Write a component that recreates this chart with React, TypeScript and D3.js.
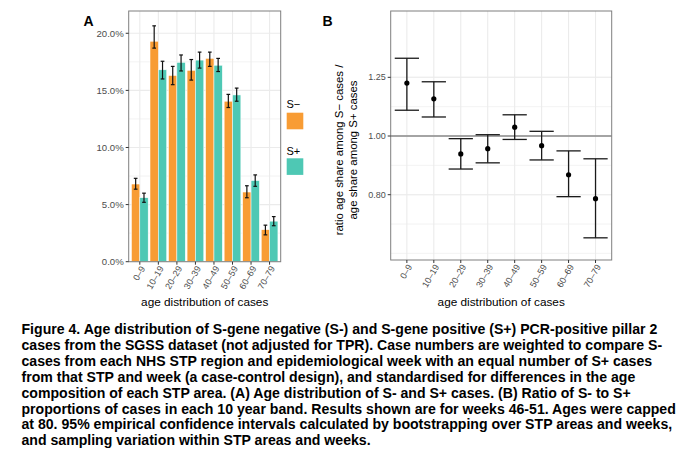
import React from "react";
import * as d3 from "d3";

const ageGroups = ["0–9", "10–19", "20–29", "30–39", "40–49", "50–59", "60–69", "70–79"];
const sNegShare = [6.8, 19.3, 16.3, 16.75, 17.8, 14.05, 6.1, 2.8];
const sNegLow = [6.35, 18.7, 15.5, 15.9, 17.1, 13.5, 5.6, 2.35];
const sNegHigh = [7.3, 20.65, 17.1, 17.7, 18.35, 14.65, 6.65, 3.2];
const sPosShare = [5.6, 16.8, 17.45, 17.65, 17.2, 14.6, 7.1, 3.55];
const sPosLow = [5.2, 16.0, 16.7, 16.95, 16.65, 14.05, 6.6, 3.15];
const sPosHigh = [6.0, 17.55, 18.1, 18.35, 17.8, 15.2, 7.6, 3.95];
const shareTicks = [0, 5, 10, 15, 20];
const shareMinor = [2.5, 7.5, 12.5, 17.5];

const ratio = [1.223, 1.152, 0.934, 0.953, 1.034, 0.964, 0.863, 0.788];
const ratioLow = [1.103, 1.075, 0.882, 0.903, 0.987, 0.913, 0.794, 0.679];
const ratioHigh = [1.344, 1.229, 0.99, 1.005, 1.084, 1.018, 0.945, 0.917];
const ratioTicks = [0.8, 1.0, 1.25];

const legendLabels = ["S−", "S+"];
const captionLines = [
  "Figure 4. Age distribution of S-gene negative (S-) and S-gene positive (S+) PCR-positive pillar 2",
  "cases from the SGSS dataset (not adjusted for TPR). Case numbers are weighted to compare S-",
  "cases from each NHS STP region and epidemiological week with an equal number of S+ cases",
  "from that STP and week (a case-control design), and standardised for differences in the age",
  "composition of each STP area. (A) Age distribution of S- and S+ cases. (B) Ratio of S- to S+",
  "proportions of cases in each 10 year band. Results shown are for weeks 46-51. Ages were capped",
  "at 80. 95% empirical confidence intervals calculated by bootstrapping over STP areas and weeks,",
  "and sampling variation within STP areas and weeks.",
];

const ORANGE = "#F89C34";
const TEAL = "#4EC8B4";
const GRID = "#EBEBEB";
const BORDER = "#7F7F7F";
const TICKTXT = "#4D4D4D";
const FONT = "'Liberation Sans', Arial, sans-serif";

export default function App() {
  // Panel A
  const aL = 128.7, aR = 280.7, aT = 11, aB = 261.7;
  const xA = d3.scaleBand<string>().domain(ageGroups).range([aL, aR]).paddingInner(0).paddingOuter(0.1);
  const yA = d3.scaleLinear().domain([0, 21.95]).range([aB, aT]);
  const stepA = xA.step();
  const barW = stepA * 0.45;
  const capA = stepA * 0.1;

  // Panel B
  const bL = 390.7, bR = 611.7, bT = 11, bB = 260;
  const xB = d3.scaleBand<string>().domain(ageGroups).range([bL, bR]).paddingInner(0).paddingOuter(0.1);
  const yB = d3.scaleLog().domain([0.6241, 1.6085]).range([bB, bT]);
  const stepB = xB.step();
  const capB = stepB * 0.45;
  const r0 = ratioTicks[0], r1 = ratioTicks[1];
  const lstep = Math.log(r1) - Math.log(r0);
  const bMinor: number[] = [];
  for (let k = -2; k <= 4; k++) {
    bMinor.push(Math.exp(Math.log(r0) + (k * lstep) / 2));
  }

  const cA = (g: string) => (xA(g) as number) + stepA / 2;
  const cB = (g: string) => (xB(g) as number) + stepB / 2;

  return (
    <svg width={690} height={455} style={{ position: "absolute", left: 0, top: 0, fontFamily: FONT }}>
      <rect x={0} y={0} width={690} height={455} fill="#fff" />

      {/* ---------- Panel A ---------- */}
      <text x={83.5} y={25.5} fontSize={14} fontWeight="bold" fill="#000">A</text>
      <rect x={aL} y={aT} width={aR - aL} height={aB - aT} fill="#fff" />
      {shareMinor.map((v) => (
        <line key={"am" + v} x1={aL} x2={aR} y1={yA(v)} y2={yA(v)} stroke={GRID} strokeWidth={0.6} />
      ))}
      {shareTicks.map((v) => (
        <line key={"ag" + v} x1={aL} x2={aR} y1={yA(v)} y2={yA(v)} stroke={GRID} strokeWidth={1.1} />
      ))}
      {ageGroups.map((g) => (
        <line key={"av" + g} x1={cA(g)} x2={cA(g)} y1={aT} y2={aB} stroke={GRID} strokeWidth={1.1} />
      ))}
      {ageGroups.map((g, i) => (
        <g key={"bars" + g}>
          <rect x={cA(g) - barW} y={yA(sNegShare[i])} width={barW} height={yA(0) - yA(sNegShare[i])} fill={ORANGE} stroke="#fff" strokeWidth={0.5} />
          <rect x={cA(g)} y={yA(sPosShare[i])} width={barW} height={yA(0) - yA(sPosShare[i])} fill={TEAL} stroke="#fff" strokeWidth={0.5} />
        </g>
      ))}
      {ageGroups.map((g, i) => {
        const xn = cA(g) - barW / 2;
        const xp = cA(g) + barW / 2;
        return (
          <g key={"eb" + g} stroke="#111" strokeWidth={1.2}>
            <line x1={xn} x2={xn} y1={yA(sNegLow[i])} y2={yA(sNegHigh[i])} />
            <line x1={xn - capA} x2={xn + capA} y1={yA(sNegLow[i])} y2={yA(sNegLow[i])} />
            <line x1={xn - capA} x2={xn + capA} y1={yA(sNegHigh[i])} y2={yA(sNegHigh[i])} />
            <line x1={xp} x2={xp} y1={yA(sPosLow[i])} y2={yA(sPosHigh[i])} />
            <line x1={xp - capA} x2={xp + capA} y1={yA(sPosLow[i])} y2={yA(sPosLow[i])} />
            <line x1={xp - capA} x2={xp + capA} y1={yA(sPosHigh[i])} y2={yA(sPosHigh[i])} />
          </g>
        );
      })}
      <rect x={aL} y={aT} width={aR - aL} height={aB - aT} fill="none" stroke={BORDER} strokeWidth={1} />
      {shareTicks.map((v) => (
        <g key={"at" + v}>
          <line x1={aL - 3} x2={aL} y1={yA(v)} y2={yA(v)} stroke="#333" strokeWidth={1} />
          <text x={aL - 5} y={yA(v)} dy="0.35em" textAnchor="end" fontSize={9.6} fill={TICKTXT}>
            {d3.format(".1f")(v) + "%"}
          </text>
        </g>
      ))}
      {ageGroups.map((g) => (
        <g key={"axt" + g}>
          <line x1={cA(g)} x2={cA(g)} y1={aB} y2={aB + 3} stroke="#333" strokeWidth={1} />
          <text transform={`translate(${cA(g) + 3},${aB + 5}) rotate(-60)`} textAnchor="end" dy="0.35em" fontSize={9} fill={TICKTXT}>
            {g}
          </text>
        </g>
      ))}
      <text x={(aL + aR) / 2} y={306} textAnchor="middle" fontSize={11.8} fill="#000">age distribution of cases</text>

      {/* Legend */}
      <text x={286.5} y={107.5} fontSize={11} fill="#000">{legendLabels[0]}</text>
      <rect x={286.7} y={112.7} width={16.6} height={16.6} fill={ORANGE} />
      <text x={286.5} y={154.5} fontSize={11} fill="#000">{legendLabels[1]}</text>
      <rect x={286.7} y={158.3} width={16.6} height={16.6} fill={TEAL} />

      {/* ---------- Panel B ---------- */}
      <text x={322.5} y={25.5} fontSize={14} fontWeight="bold" fill="#000">B</text>
      {bMinor.map((v, i) => (
        <line key={"bm" + i} x1={bL} x2={bR} y1={yB(v)} y2={yB(v)} stroke={GRID} strokeWidth={0.6} />
      ))}
      {ratioTicks.map((v) => (
        <line key={"bg" + v} x1={bL} x2={bR} y1={yB(v)} y2={yB(v)} stroke={GRID} strokeWidth={1.1} />
      ))}
      {ageGroups.map((g) => (
        <line key={"bv" + g} x1={cB(g)} x2={cB(g)} y1={bT} y2={bB} stroke={GRID} strokeWidth={1.1} />
      ))}
      <line x1={bL} x2={bR} y1={yB(1)} y2={yB(1)} stroke="#8a8a8a" strokeWidth={1.3} />
      {ageGroups.map((g, i) => (
        <g key={"be" + g} stroke="#1a1a1a" strokeWidth={1.3}>
          <line x1={cB(g)} x2={cB(g)} y1={yB(ratioLow[i])} y2={yB(ratioHigh[i])} />
          <line x1={cB(g) - capB} x2={cB(g) + capB} y1={yB(ratioLow[i])} y2={yB(ratioLow[i])} />
          <line x1={cB(g) - capB} x2={cB(g) + capB} y1={yB(ratioHigh[i])} y2={yB(ratioHigh[i])} />
          <circle cx={cB(g)} cy={yB(ratio[i])} r={2.6} fill="#000" stroke="none" />
        </g>
      ))}
      <rect x={bL} y={bT} width={bR - bL} height={bB - bT} fill="none" stroke={BORDER} strokeWidth={1} />
      {ratioTicks.map((v) => (
        <g key={"bt" + v}>
          <line x1={bL - 3} x2={bL} y1={yB(v)} y2={yB(v)} stroke="#333" strokeWidth={1} />
          <text x={bL - 5} y={yB(v)} dy="0.35em" textAnchor="end" fontSize={9} fill={TICKTXT}>
            {d3.format(".2f")(v)}
          </text>
        </g>
      ))}
      {ageGroups.map((g) => (
        <g key={"bxt" + g}>
          <line x1={cB(g)} x2={cB(g)} y1={bB} y2={bB + 3} stroke="#333" strokeWidth={1} />
          <text transform={`translate(${cB(g) + 3},${bB + 5}) rotate(-60)`} textAnchor="end" dy="0.35em" fontSize={9} fill={TICKTXT}>
            {g}
          </text>
        </g>
      ))}
      <text x={(bL + bR) / 2} y={306} textAnchor="middle" fontSize={11.8} fill="#000">age distribution of cases</text>
      <text transform={`translate(342.5,150) rotate(-90)`} textAnchor="middle" fontSize={11.4} fill="#000">
        ratio age share among S− cases /
      </text>
      <text transform={`translate(357,150) rotate(-90)`} textAnchor="middle" fontSize={11.4} fill="#000">
        age share among S+ cases
      </text>

      {/* ---------- Caption ---------- */}
      {captionLines.map((line, i) => (
        <text key={"cap" + i} x={21.5} y={334 + i * 15.9} fontSize={14.1} fontWeight="bold" fill="#000">
          {line}
        </text>
      ))}
    </svg>
  );
}
